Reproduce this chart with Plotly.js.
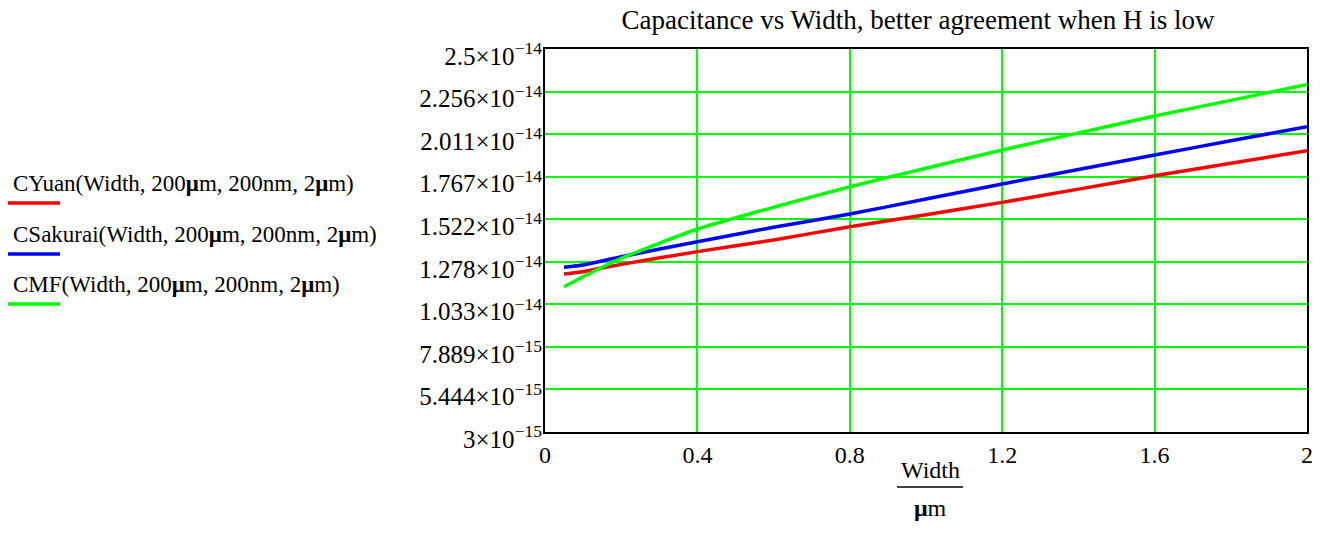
<!DOCTYPE html>
<html>
<head>
<meta charset="utf-8">
<script src="https://cdn.plot.ly/plotly-3.0.1.min.js"></script>
<style>
html,body{margin:0;padding:0;background:#fff;}
#chart{width:1332px;height:557px;}
</style>
</head>
<body>
<div id="chart"></div>
<script>
// Width in µm
const widthVals = [0.05, 0.1, 0.2, 0.4, 0.6, 0.8, 1.0, 1.2, 1.4, 1.6, 1.8, 2.0];
// Capacitance (F)
const cYuan    = [1.208e-14, 1.221e-14, 1.263e-14, 1.336e-14, 1.403e-14, 1.479e-14, 1.548e-14, 1.619e-14, 1.695e-14, 1.772e-14, 1.844e-14, 1.916e-14];
const cSakurai = [1.246e-14, 1.259e-14, 1.307e-14, 1.393e-14, 1.476e-14, 1.552e-14, 1.638e-14, 1.725e-14, 1.808e-14, 1.891e-14, 1.973e-14, 2.054e-14];
const cMF      = [1.135e-14, 1.192e-14, 1.298e-14, 1.466e-14, 1.591e-14, 1.709e-14, 1.815e-14, 1.920e-14, 2.018e-14, 2.115e-14, 2.205e-14, 2.296e-14];

const seriesNames = [
  "CYuan(Width, 200<b>μ</b>m, 200nm, 2<b>μ</b>m)",
  "CSakurai(Width, 200<b>μ</b>m, 200nm, 2<b>μ</b>m)",
  "CMF(Width, 200<b>μ</b>m, 200nm, 2<b>μ</b>m)"
];
const seriesColors = ["#ff0000", "#0000ff", "#00ff00"];

const xTickVals = [0, 0.4, 0.8, 1.2, 1.6, 2];
const xTickText = ["0", "0.4", "0.8", "1.2", "1.6", "2"];
const yTickVals = [3e-15, 5.444e-15, 7.889e-15, 1.0333e-14, 1.2778e-14, 1.5222e-14, 1.7667e-14, 2.0111e-14, 2.2556e-14, 2.5e-14];
const yTickText = [
  "3×10<sup>−15</sup>", "5.444×10<sup>−15</sup>", "7.889×10<sup>−15</sup>",
  "1.033×10<sup>−14</sup>", "1.278×10<sup>−14</sup>", "1.522×10<sup>−14</sup>",
  "1.767×10<sup>−14</sup>", "2.011×10<sup>−14</sup>", "2.256×10<sup>−14</sup>",
  "2.5×10<sup>−14</sup>"
];

const FONT = 'Liberation Serif, Times New Roman, serif';
const series = [cYuan, cSakurai, cMF];
const traces = series.map((ys, i) => ({
  x: widthVals, y: ys, type: 'scatter', mode: 'lines',
  name: seriesNames[i],
  line: {color: seriesColors[i], width: 3.5, shape: 'spline', smoothing: 0.5},
  showlegend: false
}));

const L = 545, T = 49, PW = 762, PH = 383;
const px = v => (v - L) / PW;
const py = v => 1 - (v - T) / PH;

const legendY = [183, 234, 284];
const underY = [203, 254, 304];
const annotations = [];
const shapes = [];
seriesNames.forEach((n, i) => {
  annotations.push({
    xref: 'paper', yref: 'paper', x: px(11), y: py(legendY[i]),
    xanchor: 'left', yanchor: 'middle', text: n, showarrow: false,
    font: {family: FONT, size: 23, color: '#000'}
  });
  shapes.push({
    type: 'line', xref: 'paper', yref: 'paper',
    x0: px(8), x1: px(60), y0: py(underY[i]), y1: py(underY[i]),
    line: {color: seriesColors[i], width: 3.5}
  });
});

// x-axis title as a fraction: Width / µm
annotations.push({
  xref: 'paper', yref: 'paper', x: px(930), y: py(470),
  xanchor: 'center', yanchor: 'middle', text: 'Width', showarrow: false,
  font: {family: FONT, size: 24, color: '#000'}
});
annotations.push({
  xref: 'paper', yref: 'paper', x: px(930), y: py(508),
  xanchor: 'center', yanchor: 'middle', text: '<b>μ</b>m', showarrow: false,
  font: {family: FONT, size: 24, color: '#000'}
});
shapes.push({
  type: 'line', xref: 'paper', yref: 'paper',
  x0: px(897), x1: px(963), y0: py(487), y1: py(487),
  line: {color: '#000', width: 1.5}
});

const layout = {
  width: 1332, height: 557,
  margin: {l: L, r: 1332 - L - PW, t: T, b: 557 - T - PH},
  paper_bgcolor: '#fff', plot_bgcolor: '#fff',
  title: {
    text: 'Capacitance vs Width, better agreement when H is low',
    x: 918 / 1332, xanchor: 'center', y: 1 - 20 / 557, yanchor: 'middle',
    font: {family: FONT, size: 27, color: '#000'}
  },
  font: {family: FONT, size: 24, color: '#000'},
  xaxis: {
    range: [0, 2], tickvals: xTickVals, ticktext: xTickText,
    showgrid: true, gridcolor: '#00ff00', gridwidth: 2,
    showline: true, linecolor: '#000', linewidth: 2, mirror: true,
    zeroline: false, ticks: '', ticklen: 0,
    tickfont: {family: FONT, size: 24, color: '#000'}
  },
  yaxis: {
    range: [3e-15, 2.5e-14], tickvals: yTickVals, ticktext: yTickText,
    showgrid: true, gridcolor: '#00ff00', gridwidth: 2,
    showline: true, linecolor: '#000', linewidth: 2, mirror: true,
    zeroline: false, ticks: '', ticklen: 0, ticklabelstandoff: -4,
    ticklabelshift: 7,
    tickfont: {family: FONT, size: 25, color: '#000'}
  },
  annotations: annotations,
  shapes: shapes
};

Plotly.newPlot('chart', traces, layout, {displayModeBar: false, staticPlot: true});
</script>
</body>
</html>
